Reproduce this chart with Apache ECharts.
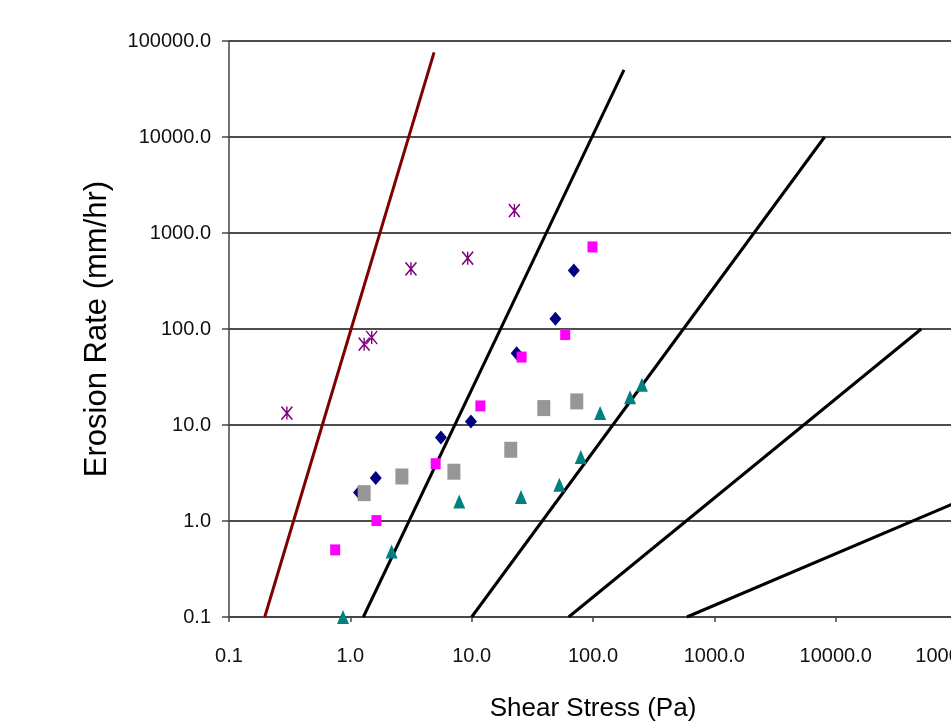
<!DOCTYPE html>
<html>
<head>
<meta charset="utf-8">
<script src="https://cdn.jsdelivr.net/npm/echarts@6/dist/echarts.min.js"></script>
<style>
  html, body { margin: 0; padding: 0; overflow: hidden; background: #fff; }
  #chart { width: 960px; height: 726px; }
</style>
</head>
<body>
<div id="chart"></div>
<script>
// data (shear stress in Pa, erosion rate in mm/hr)
const navyX = [1.18, 1.62, 5.58, 9.87, 23.5, 49, 69.5];
const navyY = [1.98, 2.8, 7.41, 10.9, 56, 128, 406];

const pinkX = [0.75, 1.64, 5.05, 11.8, 25.8, 59, 99];
const pinkY = [0.5, 1.01, 3.95, 15.8, 51, 87.5, 716];

const grayX = [1.3, 2.66, 7.14, 21, 39.3, 73.5];
const grayY = [1.95, 2.91, 3.26, 5.52, 15.0, 17.6];

const tealX = [0.87, 2.19, 7.9, 25.5, 52.8, 79.3, 114.5, 202, 253];
const tealY = [0.1, 0.48, 1.6, 1.78, 2.38, 4.63, 13.3, 19.5, 26.2];

const starX = [0.3, 1.3, 1.5, 3.16, 9.27, 22.5];
const starY = [13.3, 69.5, 81.5, 423, 547, 1711];

// category boundary lines (end points)
const redLineX = [0.197, 4.9];
const redLineY = [0.1, 76000];
const line2X = [1.28, 180];
const line2Y = [0.1, 50000];
const line3X = [10, 8100];
const line3Y = [0.1, 10000];
const line4X = [63, 50700];
const line4Y = [0.1, 100];
const line5X = [594, 100000];
const line5Y = [0.1, 1.57];

const xTicks = ['0.1', '1.0', '10.0', '100.0', '1000.0', '10000.0', '100000.0'];

function pairs(xs, ys) {
    return xs.map((x, i) => [x, ys[i]]);
}

let myChart = echarts.init(document.getElementById('chart'));
const font = 'Liberation Sans, Arial, sans-serif';

function lineSeries(xs, ys, color) {
    return {
        type: 'line',
        data: pairs(xs, ys),
        symbol: 'none',
        lineStyle: { color: color, width: 3 },
        z: 2,
        silent: true
    };
}

function dotSeries(xs, ys, symbol, size, color, extra) {
    return Object.assign({
        type: 'scatter',
        data: pairs(xs, ys),
        symbol: symbol,
        symbolSize: size,
        itemStyle: { color: color, opacity: 1 },
        z: 3
    }, extra || {});
}

let option = {
    animation: false,
    backgroundColor: '#fff',
    textStyle: { fontFamily: font },
    grid: {
        left: 229,
        top: 41,
        width: 728,
        height: 576,
        containLabel: false,
        outerBoundsMode: 'none'
    },
    xAxis: {
        type: 'log',
        logBase: 10,
        min: 0.1,
        max: 100000,
        splitNumber: 6,
        name: 'Shear Stress (Pa)',
        nameLocation: 'middle',
        nameGap: 79,
        nameTextStyle: { fontSize: 26, color: '#000', fontFamily: font },
        axisLine: { lineStyle: { color: '#444', width: 1.5 } },
        axisTick: { show: true, length: 5, lineStyle: { color: '#444', width: 1.5 } },
        minorTick: { show: false },
        splitLine: { show: false },
        axisLabel: {
            fontSize: 20,
            color: '#111',
            margin: 29,
            fontFamily: font,
            formatter: function (v) {
                let e = Math.round(Math.log10(v)) + 1;
                return xTicks[e] !== undefined ? xTicks[e] : v.toFixed(1);
            }
        }
    },
    yAxis: {
        type: 'log',
        logBase: 10,
        min: 0.1,
        max: 100000,
        splitNumber: 6,
        name: 'Erosion Rate (mm/hr)',
        nameLocation: 'middle',
        nameGap: 116,
        nameTextStyle: { fontSize: 31, color: '#000', fontFamily: font },
        axisLine: { show: true, lineStyle: { color: '#444', width: 1.5 } },
        axisTick: { show: true, length: 7, lineStyle: { color: '#444', width: 1.5 } },
        splitLine: { show: true, lineStyle: { color: '#111', width: 1.5 } },
        axisLabel: {
            fontSize: 20,
            color: '#111',
            margin: 18,
            fontFamily: font,
            formatter: function (v) {
                return v.toFixed(1);
            }
        }
    },
    series: [
        lineSeries(redLineX, redLineY, '#800000'),
        lineSeries(line2X, line2Y, '#000'),
        lineSeries(line3X, line3Y, '#000'),
        lineSeries(line4X, line4Y, '#000'),
        lineSeries(line5X, line5Y, '#000'),
        dotSeries(navyX, navyY, 'diamond', [12, 14], '#000080'),
        dotSeries(pinkX, pinkY, 'rect', [10, 11], '#ff00ff'),
        dotSeries(grayX, grayY, 'rect', [13, 16], '#969696'),
        dotSeries(tealX, tealY, 'triangle', [12, 14], '#008080'),
        dotSeries(starX, starY, 'path://M0,0L10,12M10,0L0,12M5,0L5,12', [11, 13], '#800080', {
            itemStyle: { color: 'none', borderColor: '#800080', borderWidth: 1.5, opacity: 1 }
        })
    ]
};

myChart.setOption(option, true);
window.addEventListener('resize', function () {
    myChart.resize();
});
</script>
</body>
</html>
